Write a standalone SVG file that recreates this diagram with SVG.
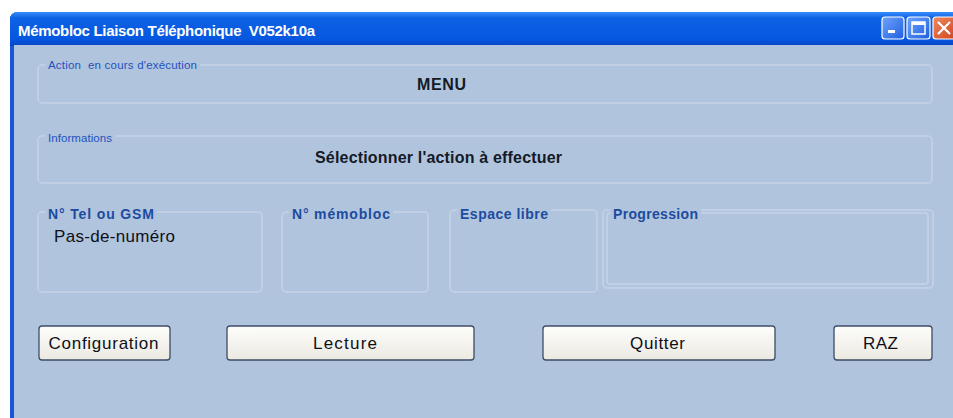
<svg xmlns="http://www.w3.org/2000/svg" width="953" height="418" viewBox="0 0 953 418">
  <defs>
    <linearGradient id="titleGrad" x1="0" y1="0" x2="0" y2="1">
      <stop offset="0" stop-color="#3a8cf8"/>
      <stop offset="0.18" stop-color="#0d62e4"/>
      <stop offset="0.8" stop-color="#0657e0"/>
      <stop offset="1" stop-color="#0446c4"/>
    </linearGradient>
    <linearGradient id="capBtn" x1="0" y1="0" x2="1" y2="1">
      <stop offset="0" stop-color="#6fa4fb"/>
      <stop offset="1" stop-color="#1f5fe0"/>
    </linearGradient>
    <linearGradient id="closeBtn" x1="0" y1="0" x2="1" y2="1">
      <stop offset="0" stop-color="#ef8a62"/>
      <stop offset="1" stop-color="#d1421c"/>
    </linearGradient>
    <linearGradient id="btnFace" x1="0" y1="0" x2="0" y2="1">
      <stop offset="0" stop-color="#fdfdfb"/>
      <stop offset="1" stop-color="#ebe9e1"/>
    </linearGradient>
  </defs>
  <style>
    .client { fill: #b1c4dd; }
    .frame { fill: none; stroke: #c5d2e5; stroke-width: 1.5; }
    .gap { fill: #b1c4dd; }
    .lbl-thin { font-family: "Liberation Sans", Arial, sans-serif; font-size: 11.5px; fill: #1f52bd; }
    .lbl-bold { font-family: "Liberation Sans", Arial, sans-serif; font-size: 14px; font-weight: bold; fill: #1d4b9f; }
    .value { font-family: "Liberation Sans", Arial, sans-serif; font-size: 16px; font-weight: bold; fill: #141a26; }
    .plain { font-family: "Liberation Sans", Arial, sans-serif; font-size: 17px; fill: #0e1018; }
    .btn rect { fill: url(#btnFace); stroke: #3e4c66; stroke-width: 1.3; }
    .btn text { font-family: "Liberation Sans", Arial, sans-serif; font-size: 17px; fill: #0e1018; text-anchor: middle; }
    .title { font-family: "Liberation Sans", Arial, sans-serif; font-size: 15px; font-weight: bold; fill: #ffffff; }
  </style>

  <!-- page behind the window -->
  <rect x="0" y="0" width="953" height="418" fill="#ffffff"/>

  <!-- window frame and title bar -->
  <g id="window">
    <path d="M10 418 V20 Q10 12 18 12 H953 V418 Z" fill="#1656d8"/>
    <path d="M10 46 V20 Q10 12 18 12 H953 V46 Z" fill="url(#titleGrad)"/>
    <rect x="14" y="45" width="939" height="373" class="client"/>
    <text x="18" y="36" class="title" xml:space="preserve" textLength="297" lengthAdjust="spacing">Mémobloc Liaison Téléphonique  V052k10a</text>
  </g>

  <!-- caption buttons -->
  <g id="caption-buttons">
    <rect x="882" y="17" width="22" height="22" rx="3" fill="url(#capBtn)" stroke="#ffffff" stroke-width="1.2"/>
    <rect x="888" y="30" width="7" height="3" fill="#ffffff"/>
    <rect x="907" y="17" width="23" height="22" rx="3" fill="url(#capBtn)" stroke="#ffffff" stroke-width="1.2"/>
    <rect x="912" y="22" width="13" height="12" fill="none" stroke="#ffffff" stroke-width="1.5"/>
    <rect x="912" y="22" width="13" height="3" fill="#ffffff"/>
    <rect x="933" y="17" width="24" height="22" rx="3" fill="url(#closeBtn)" stroke="#ffffff" stroke-width="1.2"/>
    <path d="M938 22 L950 34 M950 22 L938 34" stroke="#ffffff" stroke-width="2.2"/>
  </g>

  <!-- status group boxes -->
  <g id="box-action">
    <rect x="38" y="65" width="894" height="38" rx="4" class="frame"/>
    <rect x="45" y="60" width="155" height="10" class="gap"/>
    <text x="48" y="69" class="lbl-thin" xml:space="preserve" textLength="149" lengthAdjust="spacing">Action  en cours d'exécution</text>
    <text x="441.5" y="90" class="value" text-anchor="middle" textLength="49" lengthAdjust="spacing">MENU</text>
  </g>

  <g id="box-informations">
    <rect x="38" y="136" width="894" height="47" rx="4" class="frame"/>
    <rect x="45" y="132" width="70" height="10" class="gap"/>
    <text x="48" y="142" class="lbl-thin" textLength="64" lengthAdjust="spacing">Informations</text>
    <text x="315" y="163" class="value" textLength="247" lengthAdjust="spacing">Sélectionner l'action à effectuer</text>
  </g>

  <g id="box-tel">
    <rect x="38" y="212" width="224" height="80" rx="4" class="frame"/>
    <rect x="45" y="207" width="112" height="10" class="gap"/>
    <text x="48" y="219" class="lbl-bold" textLength="106" lengthAdjust="spacing">N° Tel ou GSM</text>
    <text x="54" y="242" class="plain" textLength="121" lengthAdjust="spacing">Pas-de-numéro</text>
  </g>

  <g id="box-memobloc">
    <rect x="282" y="212" width="146" height="80" rx="4" class="frame"/>
    <rect x="289" y="207" width="104" height="10" class="gap"/>
    <text x="292" y="219" class="lbl-bold" textLength="98" lengthAdjust="spacing">N° mémobloc</text>
  </g>

  <g id="box-espace">
    <rect x="450" y="210" width="147" height="82" rx="4" class="frame"/>
    <rect x="457" y="205" width="94" height="10" class="gap"/>
    <text x="460" y="219" class="lbl-bold" textLength="88" lengthAdjust="spacing">Espace libre</text>
  </g>

  <g id="box-progression">
    <rect x="603" y="210" width="330" height="78" rx="4" class="frame"/>
    <rect x="607" y="213" width="321" height="71" rx="3" class="frame"/>
    <rect x="610" y="205" width="91" height="11" class="gap"/>
    <text x="613" y="219" class="lbl-bold" textLength="85" lengthAdjust="spacing">Progression</text>
  </g>

  <!-- command buttons -->
  <g id="btn-configuration" class="btn">
    <rect x="39" y="326" width="131" height="34" rx="3"/>
    <text x="103.5" y="349" textLength="110" lengthAdjust="spacing">Configuration</text>
  </g>
  <g id="btn-lecture" class="btn">
    <rect x="227" y="326" width="247" height="34" rx="3"/>
    <text x="345" y="349" textLength="64" lengthAdjust="spacing">Lecture</text>
  </g>
  <g id="btn-quitter" class="btn">
    <rect x="543" y="326" width="232" height="34" rx="3"/>
    <text x="657.5" y="349" textLength="55" lengthAdjust="spacing">Quitter</text>
  </g>
  <g id="btn-raz" class="btn">
    <rect x="834" y="326" width="98" height="34" rx="3"/>
    <text x="880.5" y="349" textLength="35" lengthAdjust="spacing">RAZ</text>
  </g>

  <!-- no connectors in this window layout -->
  <g id="connectors"/>
</svg>
